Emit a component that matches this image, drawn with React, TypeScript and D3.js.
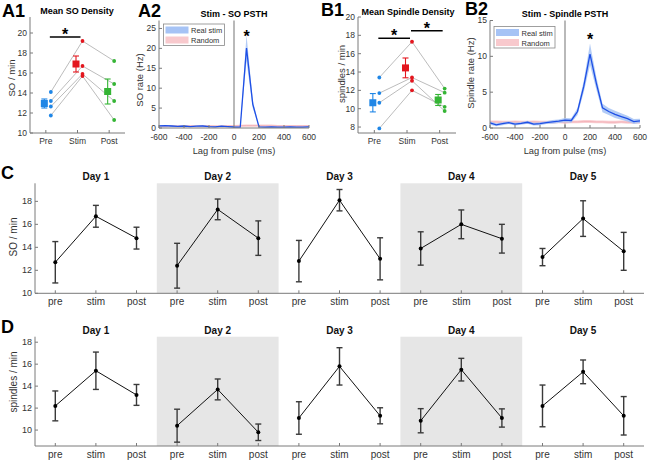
import React from "react";
import * as d3 from "d3";

// ---------------- DATA ----------------
const conditions = ["Pre", "Stim", "Post"];
const condColors = ["#1f86e6", "#e3161e", "#35b535"];

// Panel A1: individual subjects SO density (pre, stim, post)
const soSubjects = [
  [14.1, 19.2, 17.2],
  [13.2, 16.7, 14.9],
  [12.65, 15.9, 13.2],
  [11.75, 15.7, 11.3],
];
const soMean = [12.95, 16.9, 14.15];
const soSem = [0.45, 0.8, 1.25];
const soSig = [{ from: 0, to: 1, level: 19.6 }];

// Panel B1: spindle density
const spSubjects = [
  [13.4, 17.3, 12.2],
  [11.7, 13.4, 11.75],
  [10.65, 13.05, 9.75],
  [7.85, 12.0, 10.2],
];
const spMean = [10.65, 14.45, 10.95];
const spSem = [1.0, 1.08, 0.6];
const spSig = [
  { from: 0, to: 1, level: 17.68 },
  { from: 1, to: 2, level: 18.5 },
];

// PSTH lags (ms)
const lags = [-600, -550, -500, -450, -400, -350, -300, -250, -200, -150, -100, -50, 0, 50, 100, 150, 200, 250, 300, 350, 400, 450, 500, 550, 600];

// A2: SO PSTH
const soReal = [0.55, 0.6, 0.5, 0.4, 0.5, 0.35, 0.45, 0.5, 0.35, 0.3, 0.45, 0.35, 0.25, 0.2, 20.1, 6.0, 0.3, 0.2, 0.25, 0.2, 0.2, 0.25, 0.2, 0.2, 0.3];
const soRealSem = [0.15, 0.15, 0.12, 0.12, 0.12, 0.1, 0.12, 0.12, 0.1, 0.1, 0.12, 0.1, 0.1, 0.1, 3.3, 1.0, 0.1, 0.1, 0.1, 0.1, 0.1, 0.1, 0.1, 0.1, 0.1];
const soRandom = [0.45, 0.45, 0.5, 0.45, 0.45, 0.5, 0.45, 0.45, 0.5, 0.45, 0.45, 0.5, 0.5, 0.55, 0.6, 0.6, 0.6, 0.55, 0.55, 0.5, 0.5, 0.5, 0.5, 0.5, 0.5];
const soRandomSem = [0.25, 0.25, 0.25, 0.25, 0.25, 0.25, 0.25, 0.25, 0.25, 0.25, 0.25, 0.25, 0.25, 0.25, 0.3, 0.3, 0.3, 0.3, 0.3, 0.25, 0.25, 0.25, 0.25, 0.25, 0.25];
const soStar = { lag: 100, value: 23.9 };

// B2: spindle PSTH
const spReal = [0.7, 0.45, 0.6, 0.75, 0.55, 0.65, 0.8, 0.55, 0.6, 0.75, 0.85, 0.95, 1.1, 1.05, 2.3, 5.8, 10.3, 6.3, 2.8, 2.3, 1.9, 1.6, 1.3, 0.9, 1.0];
const spRealSem = [0.25, 0.2, 0.2, 0.2, 0.2, 0.2, 0.2, 0.2, 0.2, 0.2, 0.25, 0.25, 0.3, 0.3, 0.5, 0.8, 1.5, 0.9, 0.6, 0.5, 0.5, 0.45, 0.4, 0.35, 0.3];
const spRandom = [0.85, 0.85, 0.8, 0.8, 0.85, 0.8, 0.8, 0.85, 0.8, 0.8, 0.8, 0.85, 0.8, 0.85, 0.85, 0.9, 0.9, 0.85, 0.85, 0.8, 0.8, 0.85, 0.8, 0.8, 0.8];
const spRandomSem = [0.2, 0.2, 0.2, 0.2, 0.2, 0.2, 0.2, 0.2, 0.2, 0.2, 0.2, 0.2, 0.2, 0.2, 0.2, 0.2, 0.2, 0.2, 0.2, 0.2, 0.2, 0.2, 0.2, 0.2, 0.2];
const spStar = { lag: 200, value: 12.8 };

// C / D: per-day
const days = ["Day 1", "Day 2", "Day 3", "Day 4", "Day 5"];
const phases = ["pre", "stim", "post"];
const daySOMean = [
  [12.7, 16.7, 14.8],
  [12.4, 17.3, 14.8],
  [12.8, 18.1, 13.0],
  [13.9, 16.0, 14.75],
  [13.15, 16.5, 13.65],
];
const daySOErr = [
  [1.8, 0.95, 0.95],
  [1.95, 0.9, 1.5],
  [1.8, 0.93, 1.83],
  [1.45, 1.25, 1.25],
  [0.75, 1.55, 1.65],
];
const daySpMean = [
  [12.2, 15.4, 13.2],
  [10.4, 13.7, 9.8],
  [11.1, 15.8, 11.3],
  [10.85, 15.5, 11.1],
  [12.2, 15.3, 11.3],
];
const daySpErr = [
  [1.36, 1.7, 0.95],
  [1.5, 0.95, 0.75],
  [1.48, 1.7, 0.73],
  [1.1, 1.03, 0.83],
  [1.9, 1.08, 1.75],
];
const shadedDays = [1, 3];

// ---------------- STYLE ----------------
const FONT = "'Liberation Sans', Arial, Helvetica, sans-serif";
const AX = "#7a7a7a";
const TXT = "#333";

type Lin = d3.ScaleLinear<number, number>;

function YAxis({ scale, ticks, x, size = 8.5, fmt = (d: number) => String(d), color = AX }: { scale: Lin; ticks: number[]; x: number; size?: number; fmt?: (d: number) => string; color?: string }) {
  const [r0, r1] = scale.range();
  return (
    <g>
      <line x1={x} x2={x} y1={r0} y2={r1} stroke={color} strokeWidth={1} />
      {ticks.map((t) => (
        <g key={t}>
          <line x1={x} x2={x + 3} y1={scale(t)} y2={scale(t)} stroke={color} strokeWidth={1} />
          <text x={x - 3} y={scale(t)} dy="0.35em" textAnchor="end" fontSize={size} fill={TXT}>
            {fmt(t)}
          </text>
        </g>
      ))}
    </g>
  );
}

function XAxis({ scale, ticks, labels, y, labelY, size = 8.5, color = AX }: { scale: Lin; ticks: number[]; labels: string[]; y: number; labelY: number; size?: number; color?: string }) {
  const [r0, r1] = scale.range();
  return (
    <g>
      <line x1={r0} x2={r1} y1={y} y2={y} stroke={color} strokeWidth={1} />
      {ticks.map((t, i) => (
        <g key={i}>
          <line x1={scale(t)} x2={scale(t)} y1={y} y2={y - 3} stroke={color} strokeWidth={1} />
          <text x={scale(t)} y={labelY} textAnchor="middle" fontSize={size} fill={TXT}>
            {labels[i]}
          </text>
        </g>
      ))}
    </g>
  );
}

function YLabel({ x, y, text, size = 9.5 }: { x: number; y: number; text: string; size?: number }) {
  return (
    <text transform={`translate(${x},${y}) rotate(-90)`} textAnchor="middle" dy="0.35em" fontSize={size} fill={TXT}>
      {text}
    </text>
  );
}

function PanelLetter({ x, y, t }: { x: number; y: number; t: string }) {
  return (
    <text x={x} y={y} fontSize={18} fontWeight="bold" fill="#000">
      {t}
    </text>
  );
}

function MeanPanel({ xs, ys, subjects, mean, sem, sig, yTicks }: { xs: Lin; ys: Lin; subjects: number[][]; mean: number[]; sem: number[]; sig: { from: number; to: number; level: number }[]; yTicks: number[] }) {
  const DOT = 5;
  const MOFF = -1.5;
  const baseY = ys.range()[0];
  const line = d3
    .line<number>()
    .x((_, i) => xs(i + 1) + DOT)
    .y((d) => ys(d));
  return (
    <g>
      {subjects.map((s, k) => (
        <path key={k} d={line(s) || ""} fill="none" stroke="#b4b4b4" strokeWidth={0.9} />
      ))}
      {subjects.map((s, k) =>
        s.map((v, i) => <circle key={`${k}-${i}`} cx={xs(i + 1) + DOT} cy={ys(v)} r={1.9} fill={condColors[i]} />)
      )}
      {mean.map((m, i) => {
        const cx = xs(i + 1) + MOFF;
        return (
          <g key={i} stroke={condColors[i]} strokeWidth={1.1}>
            <line x1={cx} x2={cx} y1={ys(m - sem[i])} y2={ys(m + sem[i])} />
            <line x1={cx - 3} x2={cx + 3} y1={ys(m - sem[i])} y2={ys(m - sem[i])} />
            <line x1={cx - 3} x2={cx + 3} y1={ys(m + sem[i])} y2={ys(m + sem[i])} />
            <rect x={cx - 3.5} y={ys(m) - 3.5} width={7} height={7} fill={condColors[i]} stroke="none" />
          </g>
        );
      })}
      {sig.map((s, k) => {
        const x1 = xs(s.from + 1) + 4;
        const x2 = xs(s.to + 1) + 3;
        const y = ys(s.level);
        return (
          <g key={k}>
            <line x1={x1} x2={x2} y1={y} y2={y} stroke="#000" strokeWidth={1.5} />
            <text x={(x1 + x2) / 2} y={y + 3} textAnchor="middle" fontSize={16} fontWeight="bold">
              *
            </text>
          </g>
        );
      })}
      <YAxis scale={ys} ticks={yTicks} x={xs.range()[0]} />
      <XAxis scale={xs} ticks={[1, 2, 3]} labels={conditions} y={baseY} labelY={baseY + 10.5} />
    </g>
  );
}

function PsthPanel({ xs, ys, real, realSem, rnd, rndSem, star, yTicks, legendX, legendY }: { xs: Lin; ys: Lin; real: number[]; realSem: number[]; rnd: number[]; rndSem: number[]; star: { lag: number; value: number }; yTicks: number[]; legendX: number; legendY: number }) {
  const area = (m: number[], s: number[]) =>
    d3
      .area<number>()
      .x((_, i) => xs(lags[i]))
      .y0((d, i) => ys(Math.max(0, d - s[i])))
      .y1((d, i) => ys(d + s[i]))(m) || "";
  const line = (m: number[]) =>
    d3
      .line<number>()
      .x((_, i) => xs(lags[i]))
      .y((d) => ys(d))(m) || "";
  const [b, t] = ys.range();
  return (
    <g>
      <line x1={xs(0)} x2={xs(0)} y1={b} y2={t} stroke="#a8a8a8" strokeWidth={1.6} />
      <path d={area(rnd, rndSem)} fill="#f8c9cd" opacity={0.9} />
      <path d={line(rnd)} fill="none" stroke="#f4b3b9" strokeWidth={1} />
      <path d={area(real, realSem)} fill="#a6c3f5" opacity={0.85} />
      <path d={line(real)} fill="none" stroke="#1e4fe6" strokeWidth={1.3} />
      <text x={xs(star.lag)} y={ys(star.value) + 9} textAnchor="middle" fontSize={16} fontWeight="bold">
        *
      </text>
      <YAxis scale={ys} ticks={yTicks} x={xs.range()[0]} />
      <XAxis scale={xs} ticks={[-600, -400, -200, 0, 200, 400, 600]} labels={["-600", "-400", "-200", "0", "200", "400", "600"]} y={b} labelY={b + 12} />
      <text x={xs(0)} y={b + 26} textAnchor="middle" fontSize={9.3} fill={TXT}>
        Lag from pulse (ms)
      </text>
      <g fontSize={7.5} fill={TXT}>
        <rect x={legendX} y={legendY} width={61} height={21.5} fill="#fff" stroke="#888" strokeWidth={0.8} />
        <rect x={legendX + 2} y={legendY + 2.5} width={23} height={7} fill="#a6c3f5" />
        <rect x={legendX + 2} y={legendY + 12.5} width={23} height={7} fill="#f8c9cd" />
        <text x={legendX + 27.5} y={legendY + 9}>Real stim</text>
        <text x={legendX + 27.5} y={legendY + 19}>Random</text>
      </g>
    </g>
  );
}

function DayPanel({ xs, ys, means, errs, yTicks, titleY, labelY }: { xs: Lin; ys: Lin; means: number[][]; errs: number[][]; yTicks: number[]; titleY: number; labelY: number }) {
  const [b, t] = ys.range();
  const positions = d3.range(1, days.length * 3 + 1);
  const labels = positions.map((p) => phases[(p - 1) % 3]);
  return (
    <g>
      {shadedDays.map((d) => (
        <rect key={d} x={xs(d * 3 + 0.5)} y={t} width={xs(d * 3 + 3.5) - xs(d * 3 + 0.5)} height={b - t} fill="#e6e6e6" />
      ))}
      {days.map((name, d) => {
        const line = d3
          .line<number>()
          .x((_, i) => xs(d * 3 + i + 1))
          .y((v) => ys(v));
        return (
          <g key={d}>
            <text x={xs(d * 3 + 2)} y={titleY} textAnchor="middle" fontSize={10} fontWeight="bold" fill="#111">
              {name}
            </text>
            <path d={line(means[d]) || ""} fill="none" stroke="#111" strokeWidth={1} />
            {means[d].map((m, i) => {
              const cx = xs(d * 3 + i + 1);
              const lo = ys(m - errs[d][i]);
              const hi = ys(m + errs[d][i]);
              return (
                <g key={i}>
                  <g stroke="#3a3a3a" strokeWidth={1.4}>
                    <line x1={cx} x2={cx} y1={lo} y2={hi} />
                    <line x1={cx - 3} x2={cx + 3} y1={lo} y2={lo} />
                    <line x1={cx - 3} x2={cx + 3} y1={hi} y2={hi} />
                  </g>
                  <circle cx={cx} cy={ys(m)} r={2} fill="#000" />
                </g>
              );
            })}
          </g>
        );
      })}
      <YAxis scale={ys} ticks={yTicks} x={xs.range()[0]} size={9} />
      <XAxis scale={xs} ticks={positions} labels={labels} y={b} labelY={labelY} size={10} />
    </g>
  );
}

export default function App() {
  const a1x = d3.scaleLinear().domain([0.5, 3.5]).range([30, 125]);
  const a1y = d3.scaleLinear().domain([10, 21.6]).range([133, 17]);
  const b1x = d3.scaleLinear().domain([0.5, 3.5]).range([358, 456]);
  const b1y = d3.scaleLinear().domain([7.35, 20]).range([133, 17]);
  const a2x = d3.scaleLinear().domain([-600, 600]).range([159, 309]);
  const a2y = d3.scaleLinear().domain([0, 27]).range([128, 20.5]);
  const b2x = d3.scaleLinear().domain([-600, 600]).range([490, 640]);
  const b2y = d3.scaleLinear().domain([0, 15]).range([128, 20.5]);
  const cx = d3.scaleLinear().domain([0.5, 15.5]).range([35, 644]);
  const cy = d3.scaleLinear().domain([10, 19.57]).range([293.3, 183.3]);
  const dy = d3.scaleLinear().domain([8.55, 18.5]).range([446, 336.7]);

  return (
    <svg width={648} height={463} style={{ position: "absolute", left: 0, top: 0 }} fontFamily={FONT}>
      <rect width={648} height={463} fill="#fff" />

      {/* A1 */}
      <PanelLetter x={2} y={17} t="A1" />
      <text x={77} y={14} textAnchor="middle" fontSize={9} fontWeight="bold">Mean SO Density</text>
      <MeanPanel xs={a1x} ys={a1y} subjects={soSubjects} mean={soMean} sem={soSem} sig={soSig} yTicks={[10, 12, 14, 16, 18, 20]} />
      <YLabel x={12} y={78} text="SO / min" />

      {/* A2 */}
      <PanelLetter x={138} y={17} t="A2" />
      <text x={234} y={17} textAnchor="middle" fontSize={9} fontWeight="bold">Stim - SO PSTH</text>
      <PsthPanel xs={a2x} ys={a2y} real={soReal} realSem={soRealSem} rnd={soRandom} rndSem={soRandomSem} star={soStar} yTicks={[0, 5, 10, 15, 20, 25]} legendX={163.5} legendY={24} />
      <YLabel x={140} y={80} text="SO rate (Hz)" />

      {/* B1 */}
      <PanelLetter x={321} y={16} t="B1" />
      <text x={408} y={15} textAnchor="middle" fontSize={9} fontWeight="bold">Mean Spindle Density</text>
      <MeanPanel xs={b1x} ys={b1y} subjects={spSubjects} mean={spMean} sem={spSem} sig={spSig} yTicks={[8, 10, 12, 14, 16, 18, 20]} />
      <YLabel x={342} y={74} text="spindles / min" />

      {/* B2 */}
      <PanelLetter x={465} y={15} t="B2" />
      <text x={565} y={17} textAnchor="middle" fontSize={9} fontWeight="bold">Stim - Spindle PSTH</text>
      <PsthPanel xs={b2x} ys={b2y} real={spReal} realSem={spRealSem} rnd={spRandom} rndSem={spRandomSem} star={spStar} yTicks={[0, 5, 10, 15]} legendX={494} legendY={26.5} />
      <YLabel x={471} y={73} text="Spindle rate (Hz)" />

      {/* C */}
      <PanelLetter x={1} y={179} t="C" />
      <DayPanel xs={cx} ys={cy} means={daySOMean} errs={daySOErr} yTicks={[10, 12, 14, 16, 18]} titleY={180} labelY={305} />
      <YLabel x={13} y={237} text="SO / min" size={10} />

      {/* D */}
      <PanelLetter x={1} y={333} t="D" />
      <DayPanel xs={cx} ys={dy} means={daySpMean} errs={daySpErr} yTicks={[10, 12, 14, 16, 18]} titleY={334} labelY={458} />
      <YLabel x={13} y={382} text="spindles / min" size={10} />
    </svg>
  );
}
